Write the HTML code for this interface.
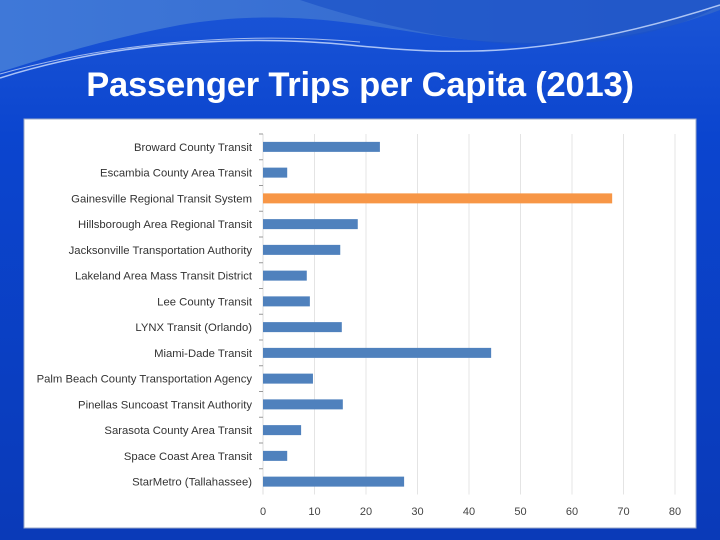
<!DOCTYPE html>
<html><head><meta charset="utf-8"><style>
body{margin:0;width:720px;height:540px;overflow:hidden;background:#0a3fc8;font-family:"Liberation Sans",sans-serif}
#bg{position:absolute;left:0;top:0}
#title{position:absolute;left:0;top:66px;width:720px;text-align:center;color:#fff;font-weight:bold;font-size:34.5px;font-family:"Liberation Sans",sans-serif;letter-spacing:-0.2px}
#chart{position:absolute;left:0;top:0}
</style></head><body>
<svg id="bg" width="720" height="540">
<defs>
<linearGradient id="g1" x1="0" y1="0" x2="0" y2="1"><stop offset="0" stop-color="#1b55d6"/><stop offset="0.25" stop-color="#0b45cf"/><stop offset="1" stop-color="#0a3ab8"/></linearGradient>
<linearGradient id="g2" x1="0" y1="0" x2="1" y2="0"><stop offset="0" stop-color="#3f78d8"/><stop offset="1" stop-color="#2f64cc"/></linearGradient>
</defs>
<rect width="720" height="540" fill="url(#g1)"/>
<path d="M0 0 H720 V10 C640 40 560 48 470 40 C380 30 300 5 180 25 C100 40 40 60 0 72 Z" fill="url(#g2)"/>
<path d="M300 0 C360 20 440 40 520 45 C600 48 680 30 720 5 V0 Z" fill="#1d52c8" opacity="0.7"/>
<path d="M0 78 C120 40 250 35 350 45 C450 55 550 60 720 5" stroke="#cfe0ff" stroke-width="1.5" fill="none" opacity="0.8"/>
<path d="M0 74 C130 38 260 33 360 42" stroke="#fff" stroke-width="1" fill="none" opacity="0.6"/>
<rect x="24" y="119" width="672" height="409" fill="#fff" stroke="#9aa8c8" stroke-width="1"/>
</svg>
<div id="title">Passenger Trips per Capita (2013)</div>
<svg id="chart" width="720" height="540"></svg>
<script>
const categories=["Broward County Transit","Escambia County Area Transit","Gainesville Regional Transit System","Hillsborough Area Regional Transit","Jacksonville Transportation Authority","Lakeland Area Mass Transit District","Lee County Transit","LYNX Transit (Orlando)","Miami-Dade Transit","Palm Beach County Transportation Agency","Pinellas Suncoast Transit Authority","Sarasota County Area Transit","Space Coast Area Transit","StarMetro (Tallahassee)"];
const values=[22.7,4.7,67.8,18.4,15.0,8.5,9.1,15.3,44.3,9.7,15.5,7.4,4.7,27.4];
const highlight=[false,false,true,false,false,false,false,false,false,false,false,false,false,false];
const ticks=[0,10,20,30,40,50,60,70,80];
const svg=document.getElementById('chart');
const NS='http://www.w3.org/2000/svg';
const x0=263,x1=675,yTop=134,band=25.75;
const xs=v=>x0+(v/80)*(x1-x0);
const yc=i=>yTop+band*(i+0.5);
function mk(t,a){const e=document.createElementNS(NS,t);for(const k in a)e.setAttribute(k,a[k]);svg.appendChild(e);return e;}
ticks.forEach(t=>{
 if(t>0){const l=mk('line',{x1:xs(t),x2:xs(t),y1:yTop,y2:yTop+band*14,stroke:'#e4e4e4','stroke-width':1});
 
 }
 const tx=mk('text',{x:xs(t),y:515,'text-anchor':'middle','font-size':11,fill:'#444'});
 tx.textContent=t;
 
 
});
const ax=mk('line',{x1:x0,x2:x0,y1:yTop,y2:yTop+band*14,stroke:'#ddd','stroke-width':1});


categories.forEach((c,i)=>{
 const tk=mk('line',{x1:x0-4,x2:x0,y1:yTop+band*i,y2:yTop+band*i,stroke:'#999','stroke-width':1});
 
 
 const r=mk('rect',{x:x0,y:yc(i)-5,width:xs(values[i])-x0,height:10,fill:highlight[i]?'#f79646':'#4f81bd'});
 
 
 const tx=mk('text',{x:252,y:yc(i)+4,'text-anchor':'end','font-size':11.3,fill:'#333'});
 tx.textContent=c;
 
 
});
</script>
</body></html>
